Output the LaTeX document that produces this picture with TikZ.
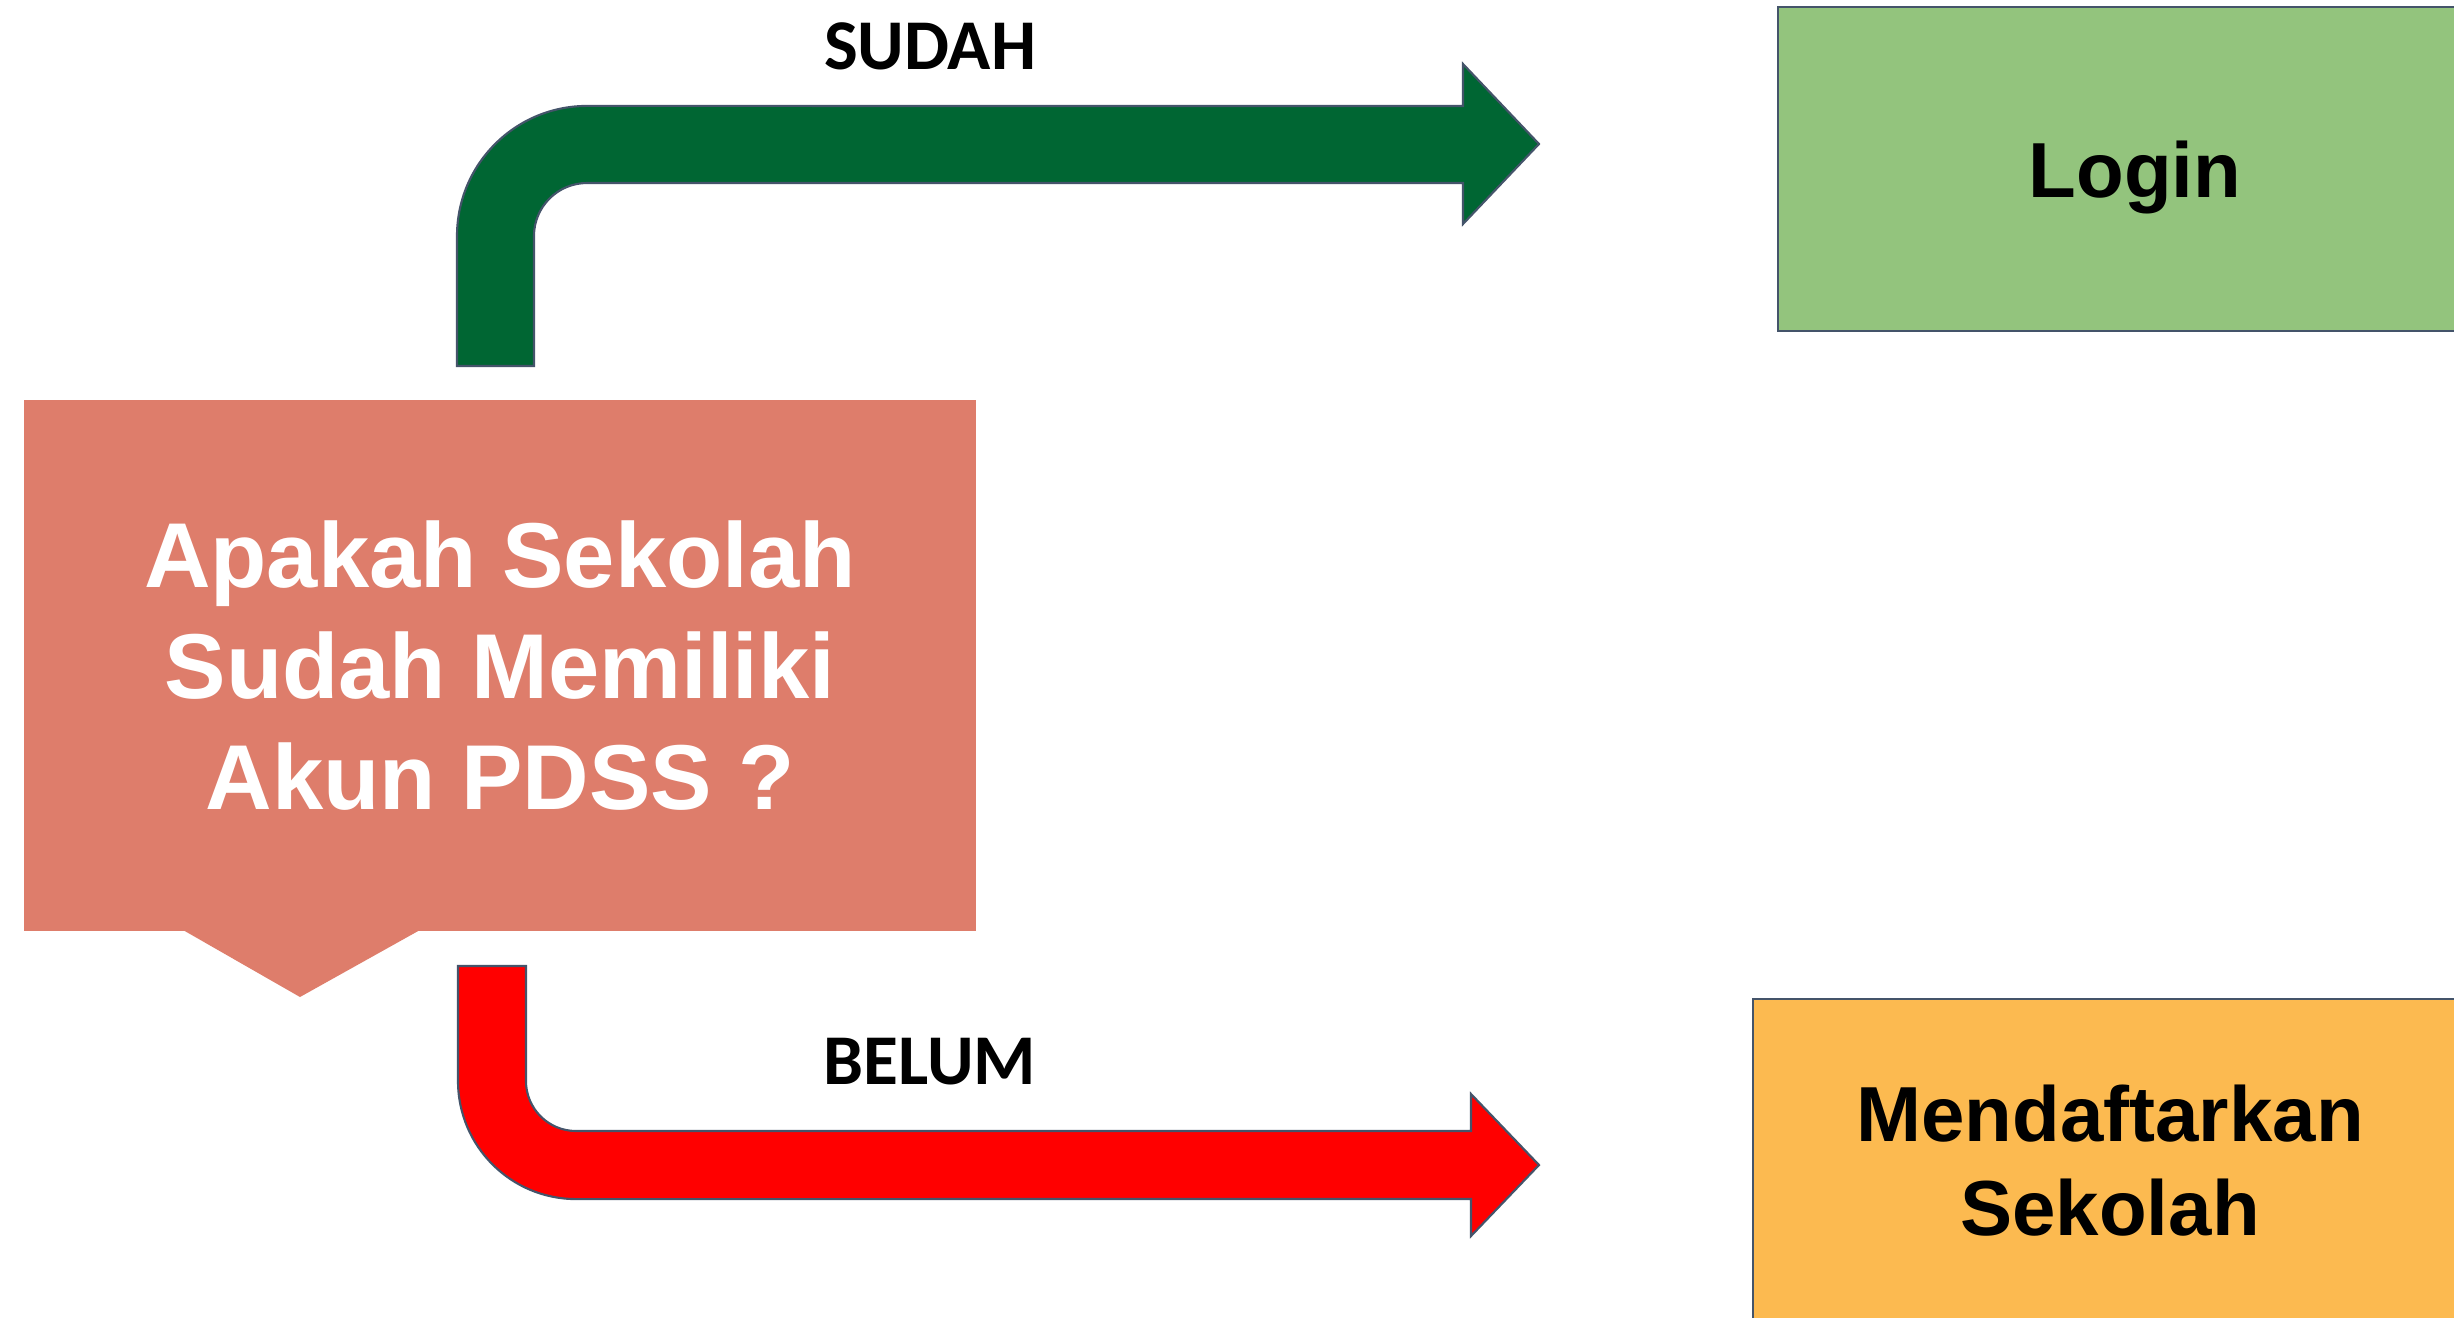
\documentclass[tikz,border=0pt]{standalone}
\usepackage{fontspec}
\setmainfont{Liberation Sans}
\newfontfamily\labelfont{Carlito}
\definecolor{salmon}{HTML}{DE7D6B}
\definecolor{logincol}{HTML}{93C47D}
\definecolor{daftarcol}{HTML}{FCBA50}
\definecolor{gdark}{HTML}{006633}
\definecolor{edgec}{HTML}{44546A}
\begin{document}
\begin{tikzpicture}[x=0.01cm,y=-0.01cm,
  box/.style={draw=edgec, line width=0.6pt, minimum width=7.13cm, minimum height=3.24cm,
    inner sep=0pt, align=center, font=\bfseries\fontsize{22.2}{26.7}\selectfont},
  qbox/.style={fill=salmon, minimum width=9.52cm, minimum height=5.31cm, inner sep=0pt,
    align=center, text=white, font=\bfseries\fontsize{26.2}{31.6}\selectfont},
  lbl/.style={font=\labelfont\bfseries\fontsize{20.3}{24}\selectfont, anchor=base, inner sep=0pt},
  blockarrow/.style={draw=edgec, line width=0.6pt}]
\clip (0,0) rectangle (2454,1318);
\fill[white] (0,0) rectangle (2454,1318);

% question box with pointer
\node[qbox] (q) at (500,665.5) {Apakah Sekolah\\Sudah Memiliki\\Akun PDSS ?};
\fill[salmon] (183,930) -- (300,997) -- (420,930) -- cycle;

% target boxes
\node[box, fill=logincol, text depth=0pt] (login) at (2135,169) {Login};
\node[box, fill=daftarcol] (daftar) at (2110,1161) {Mendaftarkan\\Sekolah};

% block arrows
\filldraw[blockarrow, fill=gdark] (457,366) -- (457,236)
  arc[start angle=180, end angle=90, radius=1.3cm] -- (1463,106) -- (1463,64)
  -- (1539,144) -- (1463,224) -- (1463,183) -- (587,183)
  arc[start angle=90, end angle=180, radius=0.53cm] -- (534,366) -- cycle;
\filldraw[blockarrow, fill=red] (458,966) -- (458,1081)
  arc[start angle=180, end angle=270, radius=1.18cm] -- (1471,1199) -- (1471,1236)
  -- (1539,1165) -- (1471,1094) -- (1471,1131) -- (576,1131)
  arc[start angle=270, end angle=180, radius=0.5cm] -- (526,966) -- cycle;

% labels
\node[lbl] (sudah) at (930,70) {SUDAH};
\node[lbl] (belum) at (930,1084) {BELUM};
\end{tikzpicture}
\end{document}
